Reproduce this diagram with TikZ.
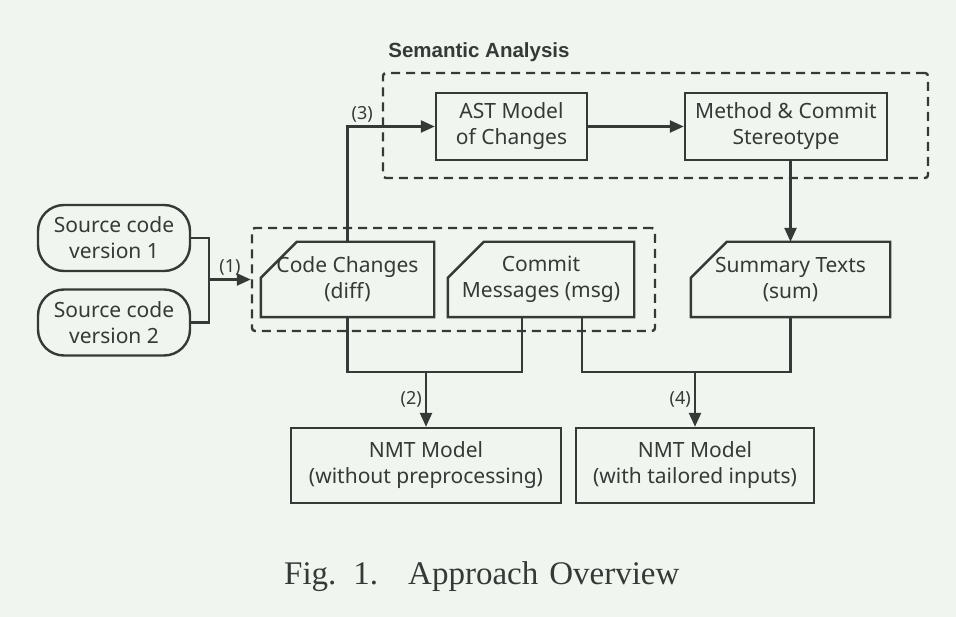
\documentclass[tikz,border=0pt]{standalone}
\usepackage{fontspec}
\setmainfont{Noto Sans}
\newfontfamily\capfont{Liberation Serif}
\newfontfamily\titlefont{Liberation Sans}
\usetikzlibrary{arrows.meta}
\definecolor{bg}{HTML}{F0F5EF}
\definecolor{ink}{HTML}{343A35}

\begin{document}
\begin{tikzpicture}[
		x=1pt, y=-1pt,
		line width=2.4pt, color=ink,
		font=\fontsize{21}{26}\selectfont,
		arr/.style = {-{Triangle[length=14pt,width=12pt]}},
		box/.style = {draw, rectangle, align=center, inner sep=0pt},
		src/.style = {box, rounded corners=26pt, minimum width=152pt, minimum height=66pt},
		data/.style = {rectangle, align=center, inner sep=0pt, minimum height=73pt},
		grp/.style = {draw, dash pattern=on 9pt off 6pt, rounded corners=3pt, inner sep=0pt},
		lbl/.style = {font=\fontsize{18}{20}\selectfont, inner sep=3pt}
	]
	\fill[bg] (0,0) rectangle (956,617);

	% groups
	\node[font=\titlefont\bfseries\fontsize{20.5}{24}\selectfont] (title) at (479,52) {Semantic Analysis};
	\node[grp, minimum width=545pt, minimum height=105pt] (sem) at (655.5,125.5) {};
	\node[grp, minimum width=403pt, minimum height=103pt] (inp) at (453.5,279.5) {};

	\node[box, minimum width=151pt, minimum height=67pt] (ast) at (511.5,126.5) {AST Model\\of Changes};
	\node[box, minimum width=202pt, minimum height=67pt] (meth) at (786,126.5) {Method \& Commit\\Stereotype};
	\node[src] (src1) at (114,238) {Source code\\version 1};
	\node[src] (src2) at (114,322.5) {Source code\\version 2};
	\node[data, minimum width=171pt] (diff) at (347.5,279.5) {Code Changes\\(diff)};
	\node[data, minimum width=184pt] (msg) at (541,279.5) {Commit\\Messages (msg)};
	\node[data, minimum width=197pt] (sum) at (790.5,279.5) {Summary Texts\\(sum)};
	\node[box, minimum width=270pt, minimum height=75pt] (nmt1) at (426,465.5) {NMT Model\\(without preprocessing)};
	\node[box, minimum width=238pt, minimum height=75pt] (nmt2) at (695,465.5) {NMT Model\\(with tailored inputs)};
	\node[font=\capfont\fontsize{33}{40}\selectfont, anchor=base west, inner sep=0pt] (cap) at (283,584)
		{Fig.\hspace{17pt}1.\hspace{30pt}Approach\hspace{11pt}Overview};

	% cut corners
	\foreach \n in {diff,msg,sum}
		\draw (\n.south west) -- ([yshift=-36pt]\n.north west) -- ([xshift=36pt]\n.north west)
			-- (\n.north east) -- (\n.south east) -- cycle;

	\coordinate (j0) at (209,279.5);
	\coordinate (j1) at (426,372);
	\coordinate (j2) at (695,372);

	\draw (src1.east) -| (j0);
	\draw (src2.east) -| (j0);
	\draw[arr] (j0) -- node[lbl,above] {(1)} (inp.west);
	\draw[arr] (diff.north) |- node[lbl,above right] {(3)} (ast.west);
	\draw[arr] (ast) -- (meth);
	\draw[arr] (meth.south -| sum.north) -- (sum.north);
	\draw (diff.south) |- (j1) -| ([xshift=-19pt]msg.south);
	\draw[arr] (j1) -- node[lbl,left] {(2)} (nmt1.north);
	\draw ([xshift=41pt]msg.south) |- (j2) -| (sum.south);
	\draw[arr] (j2) -- node[lbl,left] {(4)} (nmt2.north);
\end{tikzpicture}
\end{document}
